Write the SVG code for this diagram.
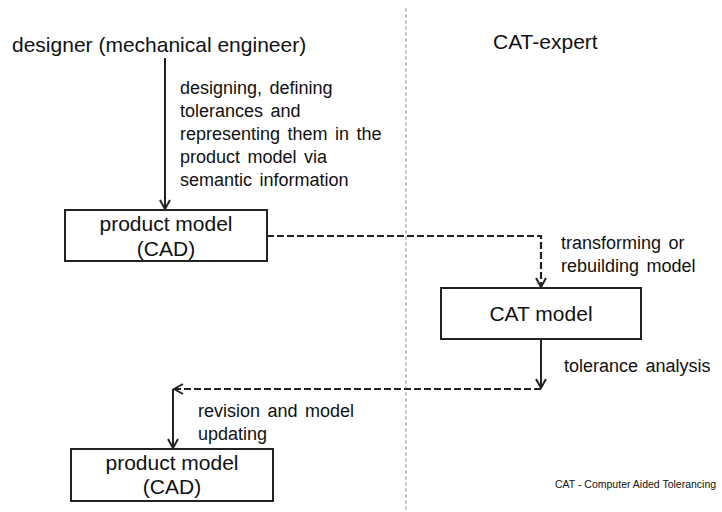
<svg xmlns="http://www.w3.org/2000/svg" width="722" height="512" viewBox="0 0 722 512">
<defs>
<marker id="ah" viewBox="0 0 12 12" refX="11" refY="6" markerWidth="12" markerHeight="12" markerUnits="userSpaceOnUse" orient="auto">
<path d="M2,1 L11,6 L2,11" fill="none" stroke="#222" stroke-width="2"/>
</marker>
</defs>
<style>
text{font-family:"Liberation Sans",Arial,sans-serif;fill:#111}
.t{font-size:21px}
.l{font-size:18px;word-spacing:2.5px}
.b{fill:#fff;stroke:#222;stroke-width:2}
.s{fill:none;stroke:#222;stroke-width:2}
.d{fill:none;stroke:#222;stroke-width:2.2;stroke-dasharray:7,3}
.div{fill:none;stroke:#999;stroke-width:1;stroke-dasharray:4,2}
</style>
<rect width="722" height="512" fill="#fff"/>
<line class="div" x1="406" y1="8" x2="406" y2="512"/>
<g id="headers">
<text class="t" x="12" y="52">designer (mechanical engineer)</text>
<text class="t" x="493" y="49">CAT-expert</text>
</g>
<g id="connectors">
<path class="s" d="M165,58 V209" marker-end="url(#ah)"/>
<path class="d" d="M267,236 H541 V287" marker-end="url(#ah)"/>
<path class="s" d="M541,339 V388" marker-end="url(#ah)"/>
<path class="d" d="M541,389 H174" marker-end="url(#ah)"/>
<path class="s" d="M173,389 V448" marker-end="url(#ah)"/>
</g>
<g id="labels">
<text class="l" x="180" y="94">designing, defining</text>
<text class="l" x="180" y="117">tolerances and</text>
<text class="l" x="180" y="140">representing them in the</text>
<text class="l" x="180" y="163">product model via</text>
<text class="l" x="180" y="186">semantic information</text>
<text class="l" x="561" y="249">transforming or</text>
<text class="l" x="561" y="272">rebuilding model</text>
<text class="l" x="564" y="372">tolerance analysis</text>
<text class="l" x="198" y="417">revision and model</text>
<text class="l" x="198" y="440">updating</text>
</g>
<g id="node-product-model-1">
<rect class="b" x="65" y="210" width="202" height="51"/>
<text class="t" x="166" y="231" text-anchor="middle">product model</text>
<text class="t" x="166" y="256" text-anchor="middle">(CAD)</text>
</g>
<g id="node-cat-model">
<rect class="b" x="441" y="288" width="200" height="51"/>
<text class="t" x="541" y="321" text-anchor="middle">CAT model</text>
</g>
<g id="node-product-model-2">
<rect class="b" x="71" y="449" width="202" height="52"/>
<text class="t" x="172" y="470" text-anchor="middle">product model</text>
<text class="t" x="172" y="494" text-anchor="middle">(CAD)</text>
</g>
<text x="555" y="488" style="font-size:10.5px">CAT - Computer Aided Tolerancing</text>
</svg>
